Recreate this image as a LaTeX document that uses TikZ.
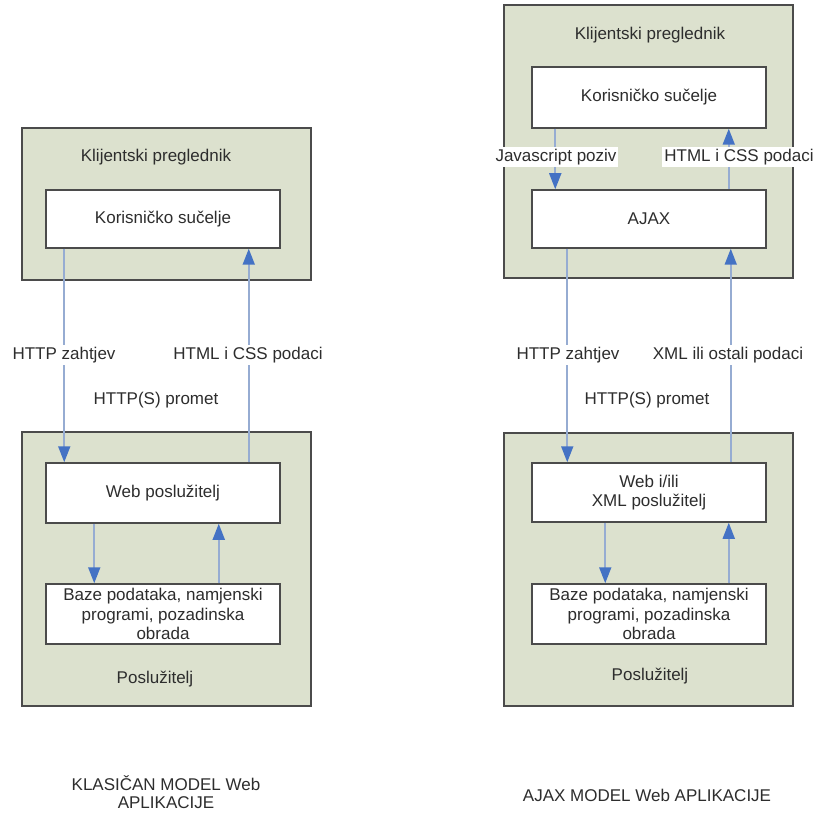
\documentclass[tikz,border=0pt]{standalone}
\usepackage{fontspec}
\setmainfont{Liberation Sans}
\usetikzlibrary{arrows.meta,positioning}
\definecolor{outerfill}{RGB}{220,225,206}
\definecolor{boxline}{RGB}{75,75,75}
\definecolor{arrline}{RGB}{150,172,210}
\definecolor{arrhead}{RGB}{68,114,196}
\definecolor{txt}{RGB}{45,45,45}
\begin{document}
\begin{tikzpicture}[x=1pt,y=-1pt,
  every node/.style={font=\fontsize{17}{19.5}\selectfont, text=txt},
  outerbox/.style={draw=boxline, line width=1.8pt, fill=outerfill, minimum width=289pt, inner sep=0pt},
  innerbox/.style={draw=boxline, line width=1.5pt, fill=white, minimum width=234pt, inner sep=0pt, align=center},
  plain/.style={inner sep=0pt, align=center},
  captxt/.style={inner sep=0pt, align=center, font=\fontsize{17}{18}\selectfont},
  lbl/.style={fill=white, inner sep=2pt},
  arr/.style={draw=arrline, line width=1.8pt, -{Triangle[length=16pt,width=12pt,color=arrhead]}}
]
\useasboundingbox (0,0) rectangle (817,813);
\fill[white] (0,0) rectangle (817,813);

% ---------- left: classic model ----------
\node[outerbox, minimum height=152pt] (cl1) at (166.5,204) {};
\node[plain] (cl1t) at (156,157) {Klijentski preglednik};
\node[innerbox, minimum height=58pt] (ku1) at (163,219) {Korisničko sučelje};

\node[outerbox, minimum height=274pt] (sv1) at (166.5,569) {};
\node[innerbox, minimum height=60pt] (wp1) at (163,493) {Web poslužitelj};
\node[innerbox, minimum height=60pt] (bz1) at (163,614) {Baze podataka, namjenski\\programi, pozadinska\\obrada};
\node[plain] (sv1t) at (155,679) {Poslužitelj};

\draw[arr] ([xshift=19pt]ku1.south west) -- ([xshift=19pt]wp1.north west);
\draw[arr] ([xshift=-32pt]wp1.north east) -- ([xshift=-32pt]ku1.south east);
\draw[arr] ([xshift=49pt]wp1.south west) -- ([xshift=49pt]bz1.north west);
\draw[arr] ([xshift=-62pt]bz1.north east) -- ([xshift=-62pt]wp1.south east);

\node[lbl] (l1a) at (64,355) {HTTP zahtjev};
\node[lbl] (l1b) at (248,355) {HTML i CSS podaci};
\node[plain] (l1c) at (156,400) {HTTP(S) promet};

\node[captxt] (cap1) at (166,792) {KLASIČAN MODEL Web\\APLIKACIJE};

% ---------- right: AJAX model ----------
\node[outerbox, minimum height=273pt] (cl2) at (648.5,141.5) {};
\node[plain] (cl2t) at (650,35) {Klijentski preglednik};
\node[innerbox, minimum height=61pt] (ku2) at (649,97.5) {Korisničko sučelje};
\node[innerbox, minimum height=58pt] (aj) at (649,219) {AJAX};

\node[outerbox, minimum height=273pt] (sv2) at (648.5,569.5) {};
\node[innerbox, minimum height=59pt] (wx) at (649,492.5) {Web i/ili\\XML poslužitelj};
\node[innerbox, minimum height=60pt] (bz2) at (649,614) {Baze podataka, namjenski\\programi, pozadinska\\obrada};
\node[plain] (sv2t) at (650,676) {Poslužitelj};

\draw[arr] ([xshift=24pt]ku2.south west) -- ([xshift=24pt]aj.north west);
\draw[arr] ([xshift=-38pt]aj.north east) -- ([xshift=-38pt]ku2.south east);
\draw[arr] ([xshift=36pt]aj.south west) -- ([xshift=36pt]wx.north west);
\draw[arr] ([xshift=-36pt]wx.north east) -- ([xshift=-36pt]aj.south east);
\draw[arr] ([xshift=74pt]wx.south west) -- ([xshift=74pt]bz2.north west);
\draw[arr] ([xshift=-38pt]bz2.north east) -- ([xshift=-38pt]wx.south east);

\node[lbl] (l2a) at (556,157) {Javascript poziv};
\node[lbl] (l2b) at (739,157) {HTML i CSS podaci};
\node[lbl] (l2c) at (568,355) {HTTP zahtjev};
\node[lbl] (l2d) at (728,355) {XML ili ostali podaci};
\node[plain] (l2e) at (647,400) {HTTP(S) promet};

\node[captxt] (cap2) at (647,795) {AJAX MODEL Web APLIKACIJE};
\end{tikzpicture}
\end{document}
